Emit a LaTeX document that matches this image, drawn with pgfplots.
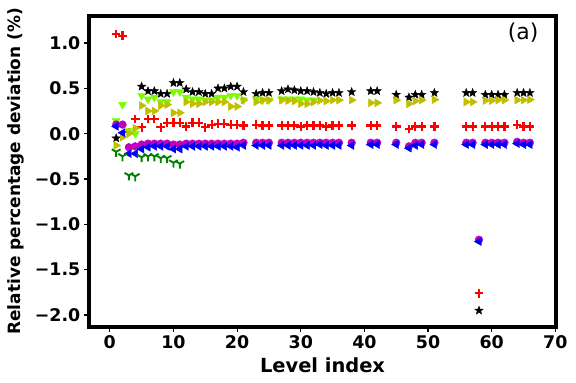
\documentclass[border=0pt]{standalone}
\usepackage{fontspec}
\setmainfont{DejaVu Sans}
\usepackage{pgfplots}
\pgfplotsset{compat=1.18}

\definecolor{mplred}{HTML}{FF0000}
\definecolor{mpllawn}{HTML}{7CFC00}
\definecolor{mplolive}{HTML}{BFBF00}
\definecolor{mplmag}{HTML}{BF00BF}
\definecolor{mplblue}{HTML}{0000FF}
\definecolor{mplgreen}{HTML}{008000}

% filled five-pointed star
\pgfdeclareplotmark{fstar}{%
  \pgfpathmoveto{\pgfpointpolar{90}{\pgfplotmarksize}}%
  \pgfpathlineto{\pgfpointpolar{126}{0.42\pgfplotmarksize}}%
  \pgfpathlineto{\pgfpointpolar{162}{\pgfplotmarksize}}%
  \pgfpathlineto{\pgfpointpolar{198}{0.42\pgfplotmarksize}}%
  \pgfpathlineto{\pgfpointpolar{234}{\pgfplotmarksize}}%
  \pgfpathlineto{\pgfpointpolar{270}{0.42\pgfplotmarksize}}%
  \pgfpathlineto{\pgfpointpolar{306}{\pgfplotmarksize}}%
  \pgfpathlineto{\pgfpointpolar{342}{0.42\pgfplotmarksize}}%
  \pgfpathlineto{\pgfpointpolar{18}{\pgfplotmarksize}}%
  \pgfpathlineto{\pgfpointpolar{54}{0.42\pgfplotmarksize}}%
  \pgfpathclose
  \pgfusepathqfillstroke}
% thick plus
\pgfdeclareplotmark{tplus}{%
  \pgfsetlinewidth{2.2bp}%
  \pgfpathmoveto{\pgfqpoint{-\pgfplotmarksize}{0pt}}\pgfpathlineto{\pgfqpoint{\pgfplotmarksize}{0pt}}%
  \pgfpathmoveto{\pgfqpoint{0pt}{-\pgfplotmarksize}}\pgfpathlineto{\pgfqpoint{0pt}{\pgfplotmarksize}}%
  \pgfusepathqstroke}
% matplotlib tri_down (Y shape)
\pgfdeclareplotmark{tridown}{%
  \pgfsetlinewidth{1.9bp}%
  \pgfpathmoveto{\pgfpointorigin}\pgfpathlineto{\pgfpointpolar{270}{\pgfplotmarksize}}%
  \pgfpathmoveto{\pgfpointorigin}\pgfpathlineto{\pgfpointpolar{30}{\pgfplotmarksize}}%
  \pgfpathmoveto{\pgfpointorigin}\pgfpathlineto{\pgfpointpolar{150}{\pgfplotmarksize}}%
  \pgfusepathqstroke}

\begin{document}
\begin{tikzpicture}
\begin{axis}[
    name=ax,
    scale only axis,
    width=467.5bp, height=311bp,
    xmin=-3.3, xmax=70.15,
    ymin=-2.13, ymax=1.30,
    axis line style={line width=4bp},
    xtick pos=bottom, ytick pos=left,
    tick align=outside,
    major tick length=5bp,
    every tick/.style={black, line width=1.2bp},
    xtick={0,10,20,30,40,50,60,70},
    xticklabels={0,10,20,30,40,50,60,70},
    ytick={-2,-1.5,-1,-0.5,0,0.5,1},
    yticklabels={−2.0,−1.5,−1.0,−0.5,0.0,0.5,1.0},
    tick label style={font=\fontsize{17.5}{18}\selectfont\bfseries},
    xlabel={Level index},
    ylabel={Relative percentage deviation (\%)},
    xlabel style={font=\fontsize{19.5}{20}\selectfont\bfseries,
        at={(axis description cs:0.5,-0.147)}, anchor=base},
    ylabel style={font=\fontsize{17}{18}\selectfont\bfseries,
        at={(axis description cs:-0.157,0.5)}, anchor=center, rotate=0},
]
\addplot[only marks, mark=tplus, mark size=4.3bp, mplred,
    mark options={draw=mplred}] coordinates {
(1,1.10)(2,1.08)(3,0.02)(4,0.16)(5,0.07)(6,0.16)(7,0.16)(8,0.07)(9,0.12)(10,0.12)
(11,0.12)(12,0.08)(13,0.12)(14,0.12)(15,0.07)(16,0.10)(17,0.11)(18,0.11)(19,0.10)(20,0.10)
(21,0.09)(23,0.10)(24,0.09)(25,0.09)(27,0.09)(28,0.09)(29,0.09)(30,0.08)(31,0.09)(32,0.09)
(33,0.09)(34,0.08)(35,0.09)(36,0.09)(38,0.09)(41,0.09)(42,0.09)(45,0.08)(47,0.05)(48,0.08)
(49,0.08)(51,0.08)(56,0.08)(57,0.08)(58,-1.76)(59,0.08)(60,0.08)(61,0.08)(62,0.08)(64,0.10)
(65,0.08)(66,0.08)};
\addplot[only marks, mark=fstar, mark size=4.4bp, black,
    mark options={fill=black, draw=black, line width=0.4bp}] coordinates {
(1,-0.05)(5,0.52)(6,0.47)(7,0.47)(8,0.44)(9,0.44)(10,0.56)(11,0.56)(12,0.49)(13,0.46)
(14,0.46)(15,0.44)(16,0.44)(17,0.50)(18,0.50)(19,0.52)(20,0.52)(21,0.46)(23,0.44)(24,0.45)
(25,0.45)(27,0.47)(28,0.49)(29,0.48)(30,0.47)(31,0.47)(32,0.46)(33,0.45)(34,0.44)(35,0.45)
(36,0.45)(38,0.46)(41,0.47)(42,0.47)(45,0.43)(47,0.40)(48,0.43)(49,0.43)(51,0.45)(56,0.45)
(57,0.45)(58,-1.95)(59,0.43)(60,0.43)(61,0.43)(62,0.43)(64,0.45)(65,0.45)(66,0.45)};
\addplot[only marks, mark=triangle*, mark size=4.6bp, mpllawn,
    mark options={rotate=180, fill=mpllawn, draw=mpllawn}] coordinates {
(1,0.14)(2,0.32)(3,0.03)(4,0.00)(5,0.42)(6,0.38)(7,0.40)(8,0.35)(9,0.35)(10,0.46)
(11,0.46)(12,0.40)(13,0.38)(14,0.38)(15,0.37)(16,0.37)(17,0.40)(18,0.40)(19,0.42)(20,0.42)
(21,0.37)(23,0.38)(24,0.37)(25,0.37)(27,0.38)(28,0.38)(29,0.38)(30,0.38)(31,0.37)(32,0.37)};
\addplot[only marks, mark=triangle*, mark size=4.6bp, mplolive,
    mark options={rotate=-90, fill=mplolive, draw=mplolive}] coordinates {
(1,-0.13)(2,-0.04)(3,0.00)(4,0.06)(5,0.31)(6,0.25)(7,0.25)(8,0.31)(9,0.32)(10,0.23)
(11,0.23)(12,0.35)(13,0.33)(14,0.33)(15,0.35)(16,0.35)(17,0.35)(18,0.35)(19,0.30)(20,0.30)
(21,0.37)(23,0.35)(24,0.37)(25,0.37)(27,0.37)(28,0.365)(29,0.36)(30,0.33)(31,0.33)(32,0.35)
(33,0.365)(34,0.36)(35,0.37)(36,0.37)(38,0.37)(41,0.34)(42,0.34)(45,0.37)(47,0.33)(48,0.36)
(49,0.37)(51,0.375)(56,0.35)(57,0.35)(59,0.365)(60,0.365)(61,0.37)(62,0.37)(64,0.37)(65,0.37)
(66,0.375)};
\addplot[only marks, mark=*, mark size=3.9bp, mplmag,
    mark options={fill=mplmag, draw=mplmag}] coordinates {
(1,0.10)(2,0.10)(3,-0.15)(4,-0.14)(5,-0.12)(6,-0.11)(7,-0.11)(8,-0.11)(9,-0.11)(10,-0.12)
(11,-0.12)(12,-0.11)(13,-0.11)(14,-0.11)(15,-0.11)(16,-0.11)(17,-0.11)(18,-0.11)(19,-0.11)(20,-0.11)
(21,-0.10)(23,-0.10)(24,-0.10)(25,-0.10)(27,-0.10)(28,-0.10)(29,-0.10)(30,-0.10)(31,-0.10)(32,-0.10)
(33,-0.10)(34,-0.10)(35,-0.10)(36,-0.10)(38,-0.10)(41,-0.10)(42,-0.10)(45,-0.10)(47,-0.14)(48,-0.10)
(49,-0.10)(51,-0.10)(56,-0.10)(57,-0.10)(58,-1.17)(59,-0.10)(60,-0.10)(61,-0.10)(62,-0.10)(64,-0.09)
(65,-0.10)(66,-0.10)};
\addplot[only marks, mark=triangle*, mark size=4.6bp, mplblue,
    mark options={rotate=90, fill=mplblue, draw=mplblue}] coordinates {
(1,0.08)(2,0.01)(3,-0.22)(4,-0.22)(5,-0.17)(6,-0.15)(7,-0.14)(8,-0.14)(9,-0.14)(10,-0.17)
(11,-0.17)(12,-0.14)(13,-0.14)(14,-0.14)(15,-0.14)(16,-0.14)(17,-0.14)(18,-0.14)(19,-0.14)(20,-0.15)
(21,-0.13)(23,-0.13)(24,-0.13)(25,-0.13)(27,-0.13)(28,-0.13)(29,-0.13)(30,-0.13)(31,-0.13)(32,-0.13)
(33,-0.12)(34,-0.13)(35,-0.13)(36,-0.13)(38,-0.13)(41,-0.12)(42,-0.12)(45,-0.12)(47,-0.16)(48,-0.13)
(49,-0.12)(51,-0.12)(56,-0.12)(57,-0.12)(58,-1.19)(59,-0.12)(60,-0.12)(61,-0.12)(62,-0.12)(64,-0.11)
(65,-0.12)(66,-0.12)};
\addplot[only marks, mark=tridown, mark size=5bp, mplgreen,
    mark options={draw=mplgreen}] coordinates {
(1,-0.20)(2,-0.25)(3,-0.46)(4,-0.47)(5,-0.26)(6,-0.25)(7,-0.25)(8,-0.27)(9,-0.27)(10,-0.32)(11,-0.33)};
\node[font=\fontsize{22}{23}\selectfont] at (axis description cs:0.929,0.945) {(a)};
\end{axis}
\pgfresetboundingbox
\path ([shift={(-88.8bp,-56bp)}]ax.south west) rectangle ([shift={(19.7bp,15.8bp)}]ax.north east);
\end{tikzpicture}
\end{document}
